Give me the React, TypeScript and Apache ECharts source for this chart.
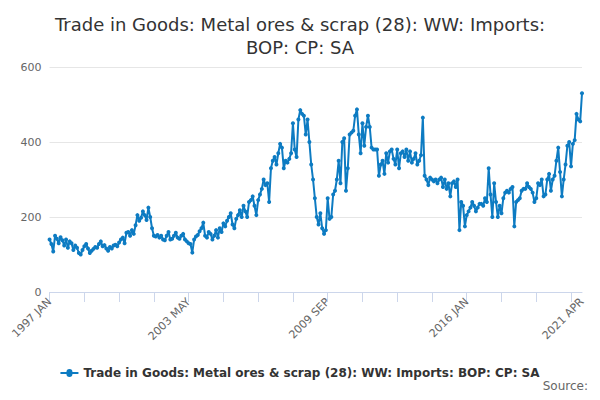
import { useEffect, useRef } from "react";
import * as echarts from "echarts";

const MONTHS = ["JAN", "FEB", "MAR", "APR", "MAY", "JUN", "JUL", "AUG", "SEP", "OCT", "NOV", "DEC"];

const y1997 = [140, 128, 108, 150, 142, 130, 146, 138, 124, 140, 118, 135];
const y1998 = [130, 112, 124, 118, 104, 100, 112, 122, 128, 116, 104, 110];
const y1999 = [115, 120, 118, 128, 135, 122, 125, 116, 110, 120, 116, 124];
const y2000 = [126, 122, 132, 140, 145, 130, 158, 160, 150, 165, 155, 178];
const y2001 = [205, 190, 198, 215, 205, 192, 225, 200, 170, 150, 148, 152];
const y2002 = [145, 150, 140, 138, 150, 160, 140, 142, 150, 158, 145, 142];
const y2003 = [150, 155, 140, 135, 130, 128, 105, 140, 148, 152, 162, 170];
const y2004 = [185, 150, 145, 160, 155, 140, 150, 165, 145, 170, 160, 183];
const y2005 = [175, 190, 200, 210, 180, 170, 195, 205, 218, 200, 230, 215];
const y2006 = [200, 240, 245, 255, 230, 205, 245, 260, 275, 300, 285, 290];
const y2007 = [240, 330, 350, 360, 340, 370, 395, 385, 330, 350, 345, 355];
const y2008 = [370, 450, 380, 360, 460, 485, 475, 470, 420, 460, 400, 340];
const y2009 = [300, 250, 200, 180, 210, 170, 155, 165, 250, 195, 200, 260];
const y2010 = [270, 300, 350, 290, 400, 410, 270, 330, 420, 425, 430, 470];
const y2011 = [487, 420, 370, 450, 390, 440, 470, 440, 385, 380, 380, 380];
const y2012 = [310, 340, 350, 315, 370, 345, 375, 380, 355, 340, 380, 330];
const y2013 = [370, 375, 360, 380, 350, 375, 345, 355, 370, 340, 350, 365];
const y2014 = [465, 310, 300, 285, 305, 300, 295, 300, 290, 300, 305, 280];
const y2015 = [300, 275, 290, 255, 290, 295, 280, 300, 165, 240, 230, 175];
const y2016 = [205, 215, 225, 240, 230, 215, 225, 235, 235, 230, 250, 240];
const y2017 = [330, 260, 200, 290, 240, 200, 230, 210, 250, 265, 270, 265];
const y2018 = [275, 280, 175, 240, 245, 250, 270, 275, 275, 290, 280, 275];
const y2019 = [265, 240, 250, 290, 285, 300, 255, 260, 300, 315, 270, 300];
const y2020 = [310, 350, 385, 320, 255, 300, 340, 390, 400, 335, 395, 405];
const y2021 = [475, 460, 455, 530];

const values = [
  ...y1997, ...y1998, ...y1999, ...y2000, ...y2001, ...y2002, ...y2003, ...y2004,
  ...y2005, ...y2006, ...y2007, ...y2008, ...y2009, ...y2010, ...y2011, ...y2012,
  ...y2013, ...y2014, ...y2015, ...y2016, ...y2017, ...y2018, ...y2019, ...y2020, ...y2021,
];
const categories = values.map((_, i) => `${1997 + Math.floor(i / 12)} ${MONTHS[i % 12]}`);

const SERIES_NAME = "Trade in Goods: Metal ores & scrap (28): WW: Imports: BOP: CP: SA";

export default function App() {
  const ref = useRef<HTMLDivElement>(null);

  useEffect(() => {
    if (!ref.current) return;
    const chart = echarts.init(ref.current, null, { renderer: "svg" });
    const last = categories.length - 1;
    chart.setOption({
      animation: false,
      textStyle: { fontFamily: "DejaVu Sans, sans-serif" },
      title: {
        text: "Trade in Goods: Metal ores & scrap (28): WW: Imports:\nBOP: CP: SA",
        left: "center",
        top: 0,
        textStyle: { fontSize: 18, fontWeight: "normal", color: "#333", lineHeight: 23 },
      },
      grid: { left: 38, right: 10, top: 59, bottom: 100 },
      xAxis: {
        type: "category",
        data: categories,
        boundaryGap: false,
        axisLine: { lineStyle: { color: "#ccd6eb" } },
        axisTick: { lineStyle: { color: "#ccd6eb" }, length: 10, interval: (i: number) => i % 19 === 0 },
        axisLabel: {
          color: "#666",
          fontSize: 11,
          rotate: 45,
          interval: (i: number) => i % 76 === 0 || i === last,
          showMaxLabel: true,
        },
      },
      yAxis: {
        type: "value",
        min: 0,
        max: 600,
        interval: 200,
        axisLabel: { color: "#666", fontSize: 11 },
        splitLine: { lineStyle: { color: "#e6e6e6" } },
      },
      legend: {
        bottom: 8,
        left: "center",
        icon: "path://M0,4 L6,4 A3,3 0 1,1 12,4 L18,4 L18,6 L12,6 A3,3 0 1,1 6,6 L0,6 Z",
        itemWidth: 18,
        itemHeight: 8,
        textStyle: { fontWeight: "bold", fontSize: 12, color: "#333" },
        data: [SERIES_NAME],
      },
      graphic: [
        {
          type: "text",
          right: 4,
          bottom: 0,
          style: { text: "Source:", fill: "#666", fontSize: 12, fontFamily: "DejaVu Sans, sans-serif" },
        },
      ],
      series: [
        {
          name: SERIES_NAME,
          type: "line",
          data: values,
          symbol: "circle",
          symbolSize: 4,
          showAllSymbol: true,
          lineStyle: { color: "#0d7bc2", width: 2 },
          itemStyle: { color: "#0d7bc2" },
        },
      ],
    });
    return () => chart.dispose();
  }, []);

  return <div ref={ref} style={{ width: 584, height: 384 }} />;
}
